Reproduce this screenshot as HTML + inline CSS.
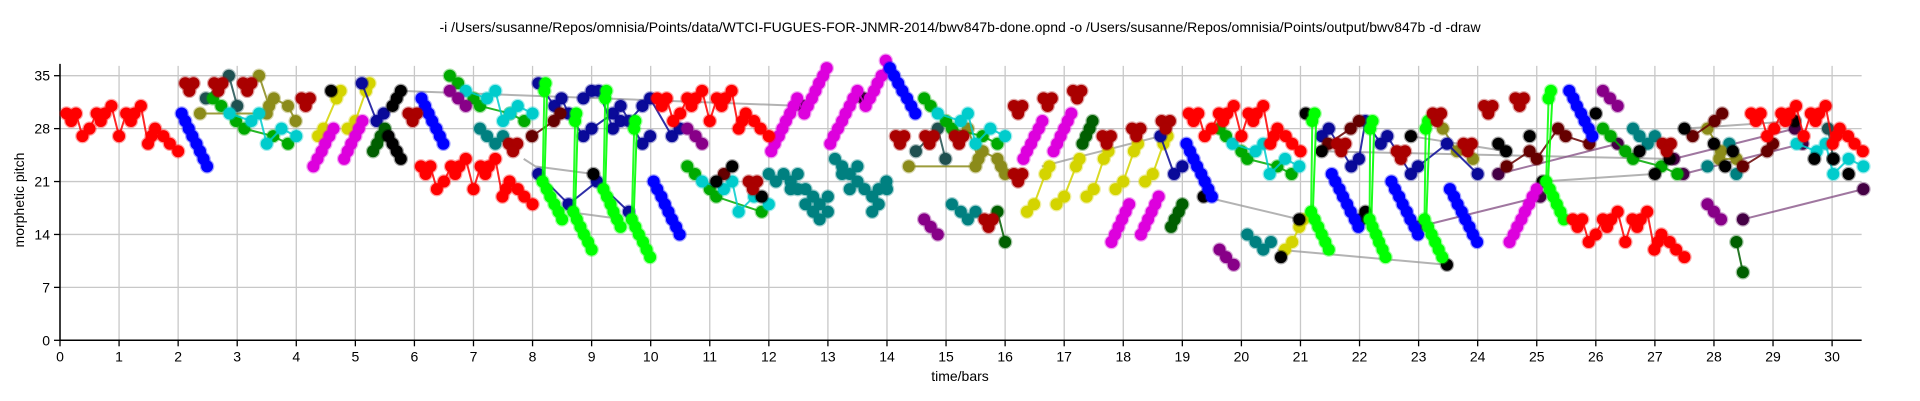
<!DOCTYPE html>
<html><head><meta charset="utf-8"><style>
html,body{margin:0;padding:0;background:#fff;}
svg{display:block;font-family:"Liberation Sans",sans-serif;}
</style></head><body>
<svg id="chart" width="1920" height="401" viewBox="0 0 1920 401">
<text x="960" y="32" text-anchor="middle" font-size="14">-i /Users/susanne/Repos/omnisia/Points/data/WTCI-FUGUES-FOR-JNMR-2014/bwv847b-done.opnd -o /Users/susanne/Repos/omnisia/Points/output/bwv847b -d -draw</text>
<text transform="translate(24,200) rotate(-90)" text-anchor="middle" font-size="14">morphetic pitch</text>
<text x="960" y="381" text-anchor="middle" font-size="14">time/bars</text>
<g id="grid"></g>
<g id="axes"></g>
<g id="marks"></g>
</svg>
<script>
const xTicks=[0,1,2,3,4,5,6,7,8,9,10,11,12,13,14,15,16,17,18,19,20,21,22,23,24,25,26,27,28,29,30];
const yTicks=[0,7,14,21,28,35];
const red1=[[0.11,30],[0.19,29],[0.27,30],[0.38,27],[0.5,28],[0.62,30],[0.69,29],[0.76,30],[0.87,31],[1.0,27],[1.12,30],[1.2,29],[1.26,30],[1.37,31],[1.49,26],[1.55,27],[1.61,28],[1.75,27],[1.86,26],[2.0,25]];
const red2=[[6.11,23],[6.19,22],[6.27,23],[6.38,20],[6.5,21],[6.62,23],[6.69,22],[6.76,23],[6.87,24],[7.0,20],[7.12,23],[7.2,22],[7.26,23],[7.37,24],[7.49,19],[7.55,20],[7.61,21],[7.75,20],[7.86,19],[8.0,18]];
const red3=[[10.11,32],[10.19,31],[10.27,32],[10.38,29],[10.5,30],[10.62,32],[10.69,31],[10.76,32],[10.87,33],[11.0,29],[11.12,32],[11.2,31],[11.26,32],[11.37,33],[11.49,28],[11.55,29],[11.61,30],[11.75,29],[11.86,28],[12.0,27]];
const red4=[[19.11,30],[19.19,29],[19.27,30],[19.38,27],[19.5,28],[19.62,30],[19.69,29],[19.76,30],[19.87,31],[20.0,27],[20.12,30],[20.2,29],[20.26,30],[20.37,31],[20.49,26],[20.55,27],[20.61,28],[20.75,27],[20.86,26],[21.0,25]];
const red5=[[25.61,16],[25.69,15],[25.77,16],[25.88,13],[26.0,14],[26.12,16],[26.19,15],[26.26,16],[26.37,17],[26.5,13],[26.62,16],[26.7,15],[26.76,16],[26.87,17],[26.99,12],[27.05,13],[27.11,14],[27.25,13],[27.36,12],[27.5,11]];
const red6=[[28.63,30],[28.71,29],[28.79,30],[28.9,27],[29.02,28],[29.14,30],[29.21,29],[29.28,30],[29.39,31],[29.52,27],[29.64,30],[29.72,29],[29.78,30],[29.89,31],[30.01,26],[30.07,27],[30.13,28],[30.27,27],[30.38,26],[30.52,25]];
const blue1=[[2.06,30],[2.12,29],[2.18,28],[2.24,27],[2.31,26],[2.37,25],[2.43,24],[2.49,23]];
const blue2=[[6.12,32],[6.18,31],[6.24,30],[6.3,29],[6.37,28],[6.43,27],[6.49,26]];
const blue3=[[10.05,21],[10.11,20],[10.18,19],[10.24,18],[10.3,17],[10.36,16],[10.43,15],[10.49,14]];
const blue4=[[14.05,36],[14.12,35],[14.19,34],[14.26,33],[14.34,32],[14.41,31],[14.48,30]];
const blue5=[[19.07,26],[19.13,25],[19.19,24],[19.25,23],[19.32,22],[19.38,21],[19.44,20],[19.5,19]];
const blue6=[[21.53,22],[21.59,21],[21.66,20],[21.72,19],[21.79,18],[21.85,17],[21.92,16],[21.98,15]];
const blue7=[[22.54,21],[22.6,20],[22.67,19],[22.73,18],[22.8,17],[22.86,16],[22.93,15],[22.99,14]];
const blue8=[[23.53,20],[23.6,19],[23.66,18],[23.73,17],[23.79,16],[23.86,15],[23.92,14],[23.99,13]];
const blue9=[[25.55,33],[25.62,32],[25.68,31],[25.75,30],[25.81,29],[25.88,28],[25.94,27]];
const magenta1=[[4.29,23],[4.36,24],[4.43,25],[4.49,26],[4.56,27],[4.63,28]];
const magenta2=[[4.81,24],[4.87,25],[4.93,26],[5.0,27],[5.06,28],[5.12,29]];
const magenta3=[[12.04,25],[12.1,26],[12.17,27],[12.23,28],[12.29,29],[12.36,30],[12.42,31],[12.48,32],[12.6,30],[12.66,31],[12.73,32],[12.79,33],[12.85,34],[12.92,35],[12.98,36]];
const magenta4=[[13.04,26],[13.1,27],[13.17,28],[13.24,29],[13.3,30],[13.37,31],[13.43,32],[13.5,33],[13.64,31],[13.71,32],[13.78,33],[13.84,34],[13.91,35],[13.98,37]];
const magenta5=[[16.31,24],[16.37,25],[16.44,26],[16.5,27],[16.57,28],[16.63,29]];
const magenta6=[[16.82,25],[16.88,26],[16.94,27],[17.0,28],[17.06,29],[17.12,30]];
const magenta7=[[17.8,13],[17.86,14],[17.92,15],[17.98,16],[18.04,17],[18.1,18]];
const magenta8=[[18.3,14],[18.36,15],[18.42,16],[18.48,17],[18.54,18],[18.6,19]];
const magenta9=[[24.54,13],[24.61,14],[24.67,15],[24.74,16],[24.8,17],[24.87,18],[24.93,19],[25.0,20]];
const lime1=[[8.22,34],[8.2,33],[8.17,21],[8.24,20],[8.3,19],[8.37,18],[8.44,17],[8.5,16]];
const lime2=[[8.74,30],[8.72,29],[8.69,17],[8.75,16],[8.81,15],[8.87,14],[8.94,13],[9.0,12]];
const lime3=[[9.25,33],[9.23,32],[9.2,20],[9.26,19],[9.32,18],[9.37,17],[9.43,16],[9.49,15]];
const lime4=[[9.74,29],[9.72,28],[9.68,16],[9.74,15],[9.8,14],[9.87,13],[9.93,12],[9.99,11]];
const lime5=[[21.24,30],[21.2,29],[21.18,17],[21.24,16],[21.3,15],[21.36,14],[21.42,13],[21.48,12]];
const lime6=[[22.22,29],[22.18,28],[22.17,16],[22.22,15],[22.28,14],[22.33,13],[22.39,12],[22.44,11]];
const lime7=[[23.16,29],[23.12,28],[23.1,16],[23.16,15],[23.22,14],[23.28,13],[23.34,12],[23.4,11]];
const lime8=[[25.24,33],[25.2,32],[25.16,21],[25.22,20],[25.28,19],[25.34,18],[25.4,17],[25.46,16]];
const trefoilTimes=[2.12,2.61,3.1,4.09,5.9,7.6,11.66,14.15,14.65,15.15,16.15,16.65,17.15,16.15,15.65,17.65,18.15,18.65,21.62,22.63,23.24,23.76,24.11,24.64,27.13];
const trefoilPitches=[34,34,34,32,30,26,21,27,27,27,31,32,33,22,16,27,28,29,26,25,30,26,31,32,26];
const darkslate1=[[2.47,32],[2.86,35],[3.0,31]];
const darkslate2=[[14.49,25],[14.86,28],[14.99,24]];
const darkslate3=[[29.93,28],[30.02,24]];
const green1=[[2.59,32],[2.73,31],[2.98,29],[3.12,28],[3.61,27],[3.86,26]];
const green2=[[6.6,35],[6.74,34],[7.0,32],[7.11,31],[7.62,30],[7.86,29]];
const green3=[[10.62,23],[10.75,22],[11.0,20],[11.11,19],[11.88,17]];
const green4=[[14.63,32],[14.74,31],[15.0,29],[15.1,28],[15.62,27],[15.87,26]];
const green5=[[19.63,28],[19.74,27],[20.0,25],[20.1,24],[20.61,23],[20.85,22]];
const green6=[[26.12,28],[26.25,27],[26.5,25],[26.63,24],[27.11,23],[27.38,22]];
const cyan1=[[2.87,30],[3.24,29],[3.37,30],[3.5,26],[3.75,28],[4.0,27]];
const cyan2=[[6.87,33],[7.23,32],[7.37,33],[7.5,29],[7.62,30],[7.75,31],[8.0,30]];
const cyan3=[[10.87,21],[11.24,20],[11.38,21],[11.49,17],[11.75,19],[12.0,18]];
const cyan4=[[14.86,30],[15.25,29],[15.37,30],[15.5,26],[15.75,28],[16.0,27]];
const cyan5=[[19.85,26],[20.24,25],[20.37,26],[20.48,22],[20.74,24],[20.98,23]];
const cyan6=[[29.4,26],[29.74,25],[29.89,26],[30.02,22],[30.28,24],[30.53,23]];
const olive1=[[2.37,30],[3.5,30]];
const olive2=[[3.37,35],[3.54,31],[3.62,32],[3.86,31],[3.99,29]];
const olive3=[[14.37,23],[15.5,23]];
const olive4=[[15.37,28],[15.55,24],[15.62,25],[15.87,24],[15.93,23],[16.0,22]];
const olive5=[[23.41,28],[23.65,25],[23.92,24]];
const olive6=[[27.89,28],[28.12,25],[28.09,24],[28.38,24]];
const yellow1=[[4.37,27],[4.46,28],[4.68,32],[4.75,33]];
const yellow2=[[4.87,28],[5.0,29],[5.18,33],[5.24,34]];
const yellow3=[[16.37,17],[16.49,18],[16.68,22],[16.75,23]];
const yellow4=[[16.87,18],[17.0,19],[17.2,23],[17.26,24]];
const yellow5=[[17.38,19],[17.5,20],[17.67,24],[17.75,25]];
const yellow6=[[17.87,20],[18.0,21],[18.18,25],[18.25,26]];
const yellow7=[[18.37,21],[18.5,22],[18.68,26],[18.75,27]];
const yellow8=[[20.74,12],[20.86,13],[20.98,15],[21.05,16]];
const darkblue1=[[5.11,34],[5.36,29],[5.48,30]];
const darkblue2=[[8.1,34],[8.37,31],[8.49,32],[8.61,30],[8.86,27],[9.0,28],[9.36,30],[9.49,31],[9.86,26],[9.99,27]];
const darkblue3=[[8.86,32],[9.0,33],[9.12,33],[9.36,28],[9.49,29],[9.63,29],[9.86,31],[9.99,32],[10.36,27],[10.49,28]];
const darkblue4=[[8.1,22],[8.61,18],[9.09,21],[9.63,17]];
const darkblue5=[[18.63,27],[18.86,22],[19.0,23]];
const darkblue6=[[21.36,27],[21.48,28],[21.86,23],[21.99,24],[22.1,29],[22.36,26],[22.47,27],[22.87,22],[22.99,23],[23.48,26],[24.0,22]];
const darkgreen1=[[5.3,25],[5.37,26],[5.43,27],[5.5,28]];
const darkgreen2=[[15.87,17],[16.0,13]];
const darkgreen3=[[17.31,26],[17.37,27],[17.43,28],[17.48,29]];
const darkgreen4=[[18.81,15],[18.87,16],[18.94,17],[19.0,18]];
const darkgreen5=[[28.38,13],[28.49,9]];
const black1=[[5.63,31],[5.7,32],[5.77,33]];
const black2=[[5.56,27],[5.63,26],[5.7,25],[5.77,24]];
const greyLine1=[[5.77,33],[12.57,31]];
const greyLine2=[[7.85,24],[8.05,23],[9.03,22]];
const greyLine3=[[8.58,17],[9.54,16]];
const greyLine4=[[16.62,23],[17.11,24],[17.62,25],[18.12,26],[18.63,27]];
const greyLine5=[[19.36,19],[20.98,16]];
const greyLine6=[[20.61,12],[23.48,10]];
const greyLine7=[[21.36,25],[27.25,24]];
const greyLine8=[[22.87,27],[24.48,25]];
const greyLine9=[[25.1,21],[27.0,22]];
const greyLine10=[[27.5,28],[29.37,29]];
const blackDots=[[4.59,33],[12.57,31],[13.6,32],[11.11,21],[11.38,23],[11.88,19],[21.09,30],[21.36,25],[22.1,17],[22.03,16],[22.87,27],[24.35,26],[24.48,25],[24.88,27],[25.1,21],[26.0,30],[26.74,25],[27.25,24],[27.0,22],[27.5,28],[28.0,26],[28.19,23],[28.32,25],[29.37,29],[29.7,24],[30.02,24],[30.28,22],[20.67,11],[23.48,10],[9.03,22],[19.36,19],[20.98,16]];
const purple1=[[6.6,33],[6.74,32],[6.87,31]];
const purple2=[[10.62,28],[10.76,27],[10.87,26]];
const purple3=[[14.63,16],[14.74,15],[14.86,14]];
const purple4=[[19.63,12],[19.74,11],[19.87,10]];
const purple5=[[26.12,33],[26.24,32],[26.37,31]];
const purple6=[[27.89,18],[28.0,17],[28.12,16]];
const mauveLine1=[[24.35,22],[26.37,26]];
const mauveLine2=[[22.99,15],[25.06,19]];
const mauveLine3=[[27.32,24],[29.37,28]];
const mauveLine4=[[27.48,22],[29.5,26]];
const mauveLine5=[[28.49,16],[30.53,20]];
const teal1=[[7.11,28],[7.23,27],[7.37,26],[7.5,27]];
const teal2=[[12.0,22],[12.12,21],[12.25,22],[12.37,21],[12.49,22],[12.37,20],[12.49,20],[12.62,20],[12.62,18],[12.75,19],[12.86,18],[12.86,16],[13.0,19],[13.0,17],[12.75,17]];
const teal3=[[13.12,24],[13.24,23],[13.37,22],[13.5,23],[13.24,22],[13.37,20],[13.5,21],[13.62,20],[13.75,19],[13.86,20],[13.86,18],[14.0,20],[13.75,17],[13.99,21]];
const teal4=[[15.1,18],[15.25,17],[15.37,16],[15.5,17]];
const teal5=[[20.1,14],[20.24,13],[20.37,12],[20.5,13]];
const teal6=[[26.63,28],[26.74,27],[26.88,26],[27.0,27]];
const teal7=[[27.89,23],[28.26,26],[28.38,22]];
const maroon1=[[7.99,27],[8.36,29],[8.47,30]];
const maroon2=[[21.47,26],[21.85,28],[21.99,29]];
const maroon3=[[24.49,23],[24.88,25],[25.0,24],[25.36,28],[25.49,27],[25.89,26]];
const maroon4=[[27.64,27],[28.01,29],[28.14,30]];
const maroon5=[[28.49,23],[28.9,25],[29.0,26]];
const maroonDots=[[11.24,22]];

const NS="http://www.w3.org/2000/svg";
const X0=60,BW=59.07,Y0=340.3,PU=7.56,XMAX=30.5,YMAX=36.3;
function xs(b){return X0+BW*b;}
function ys(p){return Y0-PU*p;}
function mk(tag,attrs,parent){const e=document.createElementNS(NS,tag);for(const k in attrs)e.setAttribute(k,attrs[k]);parent.appendChild(e);return e;}
const grid=document.getElementById('grid'),axes=document.getElementById('axes'),marks=document.getElementById('marks');
xTicks.forEach(t=>{
  const l=mk('line',{x1:xs(t),x2:xs(t),y1:ys(YMAX),y2:Y0,stroke:'#c8c8c8','stroke-width':1.3},grid);
  
  
  mk('line',{x1:xs(t),x2:xs(t),y1:Y0,y2:Y0+6,stroke:'#000','stroke-width':1.3},axes);
  const tx=mk('text',{x:xs(t),y:Y0+21,'text-anchor':'middle','font-size':14},axes);
  tx.textContent=t;
  
  
});
yTicks.forEach(t=>{
  const l=mk('line',{x1:X0,x2:xs(XMAX),y1:ys(t),y2:ys(t),stroke:'#c8c8c8','stroke-width':1.3},grid);
  
  
  mk('line',{x1:X0-6,x2:X0,y1:ys(t),y2:ys(t),stroke:'#000','stroke-width':1.3},axes);
  const tx=mk('text',{x:X0-10,y:ys(t)+5,'text-anchor':'end','font-size':14},axes);
  tx.textContent=t;
  
  
});
const ya=mk('line',{x1:X0,x2:X0,y1:ys(YMAX)-2,y2:Y0,stroke:'#000','stroke-width':1.5},axes);


const xa=mk('line',{x1:X0,x2:xs(XMAX),y1:Y0,y2:Y0,stroke:'#000','stroke-width':1.5},axes);



function drawLine(pts,color,w,op,name){
  const p=mk('polyline',{points:pts.map(d=>xs(d[0])+','+ys(d[1])).join(' '),fill:'none',stroke:color,'stroke-width':w,'stroke-opacity':op,'stroke-linejoin':'round'},marks);
  
  
}
function drawDots(pts,color,r,name){
  pts.forEach(d=>{
    const c=mk('circle',{cx:xs(d[0]),cy:ys(d[1]),r:r,fill:color,stroke:color,'stroke-opacity':0.35,'stroke-width':2.5},marks);
    
    
  });
}
function series(pts,color,name,line){ if(line!==false)drawLine(pts,color,2,0.85,name); drawDots(pts,color,6,name); }

[greyLine1,greyLine2,greyLine3,greyLine4,greyLine5,greyLine6,greyLine7,greyLine8,greyLine9,greyLine10].forEach(g=>drawLine(g,'#999',2,0.75,'grey-connector'));
[mauveLine1,mauveLine2,mauveLine3,mauveLine4,mauveLine5].forEach(g=>{drawLine(g,'#885588',2,0.8,'mauve-connector');drawDots(g,'#440044',6,'dark-purple');});
[teal1,teal2,teal3,teal4,teal5,teal6,teal7].forEach(s=>series(s,'#008080','teal',false));
[olive1,olive2,olive3,olive4,olive5,olive6].forEach(s=>series(s,'#8b8b1a','olive'));
[darkslate1,darkslate2,darkslate3].forEach(s=>series(s,'#1f5050','dark-slate'));
[green1,green2,green3,green4,green5,green6].forEach(s=>series(s,'#00aa00','green'));
[cyan1,cyan2,cyan3,cyan4,cyan5,cyan6].forEach(s=>series(s,'#00cccc','cyan'));
[yellow1,yellow2,yellow3,yellow4,yellow5,yellow6,yellow7,yellow8].forEach(s=>series(s,'#d4d400','yellow'));
[darkblue1,darkblue2,darkblue3,darkblue4,darkblue5,darkblue6].forEach(s=>series(s,'#0a0a99','dark-blue'));
[darkgreen1,darkgreen2,darkgreen3,darkgreen4,darkgreen5].forEach(s=>series(s,'#005f00','dark-green'));
[maroon1,maroon2,maroon3,maroon4,maroon5].forEach(s=>series(s,'#660000','maroon'));
drawDots(maroonDots,'#660000',6,'maroon');
[purple1,purple2,purple3,purple4,purple5,purple6].forEach(s=>series(s,'#880088','purple'));
[black1,black2].forEach(s=>series(s,'#000','black'));
drawDots(blackDots,'#000',6,'black');
[magenta1,magenta2,magenta3,magenta4,magenta5,magenta6,magenta7,magenta8,magenta9].forEach(s=>series(s,'#dd00dd','magenta'));
[blue1,blue2,blue3,blue4,blue5,blue6,blue7,blue8,blue9].forEach(s=>series(s,'#0000ff','blue'));
[lime1,lime2,lime3,lime4,lime5,lime6,lime7,lime8].forEach(s=>{
  drawLine([[s[0][0]+0.03,s[0][1]],[s[2][0]+0.03,s[2][1]]],'#00ff00',2,0.9,'lime-extra');
  series(s,'#00ff00','lime');
});
trefoilTimes.forEach((t,i)=>{
  const p=trefoilPitches[i];
  drawDots([[t,p],[t+0.14,p],[t+0.07,p-1]],'#aa0000',6,'dark-red-trefoil');
});
[red1,red2,red3,red4,red5,red6].forEach(s=>series(s,'#ff0000','red'));
</script>
</body></html>
